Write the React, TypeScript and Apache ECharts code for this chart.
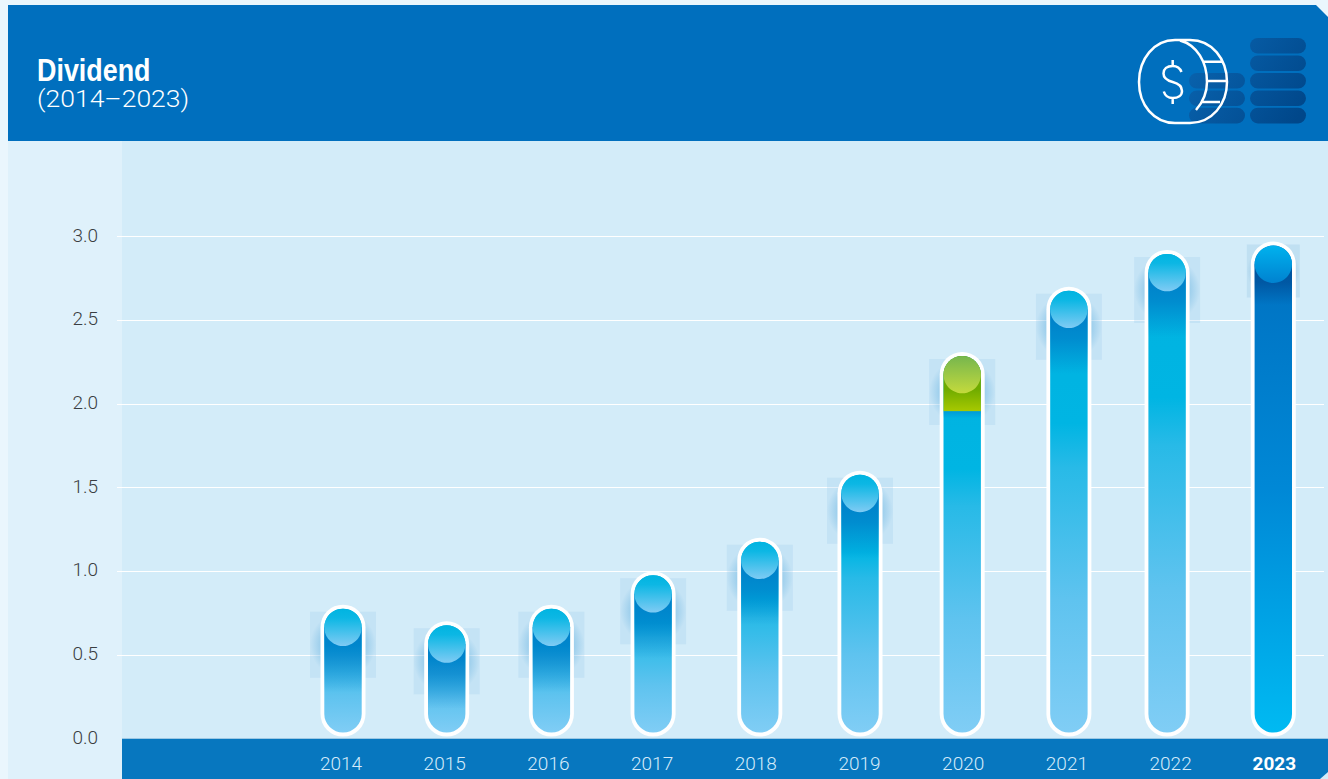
import React, { useEffect, useRef } from "react";
import * as echarts from "echarts";

// Dividend per year, 2014–2023
const years = ["2014", "2015", "2016", "2017", "2018", "2019", "2020", "2021", "2022", "2023"];
const dividends = [0.8, 0.7, 0.8, 1.0, 1.2, 1.6, 2.31, 2.7, 2.92, 2.97];
// Level where the green cap of a bar starts; null for plain bars
const capStart = [null, null, null, null, null, null, 1.955, null, null, null];
const yTicks = { min: 0, max: 3, interval: 0.5 };

const COIN =
  "M1175 40 C1154 40 1139 59 1139 82 C1139 105 1154 123 1175 123 L1190 123 C1212 123 1227 104 1227 82 C1227 59 1212 40 1190 40 Z " +
  "M1180 40.5 C1197 45 1207 62 1207 82 C1207 92 1203 102 1196 110 " +
  "M1203 61.7 L1222 61.7 M1207 81 L1227 81 M1201 102 L1220 102 " +
  "M1172.7 60 L1172.7 66 M1172.7 98 L1172.7 104 " +
  "M1181.5 72 C1180 68 1177 66 1172.7 66 C1167 66 1163.5 69 1163.5 73.5 C1163.5 78 1167 80.5 1172.7 82 C1178.5 83.5 1182 86.5 1182 91 C1182 95.5 1178 98 1172.7 98 C1168 98 1165 95.5 1163.8 91.5";
echarts.graphic.registerShape("coinIcon", echarts.graphic.extendPath(COIN, {}));

const vertical = (stops: [number, string][]) => ({
  type: "linear",
  x: 0,
  y: 0,
  x2: 0,
  y2: 1,
  colorStops: stops.map(([offset, color]) => ({ offset, color })),
});

// Small horizontal offsets of the bars relative to their axis labels
const barNudge = [2, 2, 3, 1, 4, 0.5, -1, 2, -3.5, -1];

function renderBar(params: any, api: any) {
  const i = params.dataIndex;
  const latest = i === years.length - 1;
  const [cx, top] = api.coord([api.value(0), api.value(1)]);
  const x = cx + barNudge[i];
  const base = 736.6;
  const outerW = 45;
  const innerW = 37.4;
  const r = innerW / 2;
  const innerTop = top + 4;
  const innerBottom = base - 4;
  const capY = capStart[i] != null ? api.coord([api.value(0), capStart[i]])[1] : null;

  const barFill = latest
    ? vertical([
        [0, "#0070c0"],
        [0.5, "#0088d6"],
        [1, "#00baf2"],
      ])
    : vertical([
        [0, "#00b2e0"],
        [0.3, "#00b5e3"],
        [0.4, "#28bae7"],
        [0.7, "#5fc3ef"],
        [1, "#80cdf5"],
      ]);
  const circleFill = latest
    ? vertical([
        [0, "#00b2ee"],
        [1, "#0082d0"],
      ])
    : capY != null
      ? vertical([
          [0, "#76b64e"],
          [1, "#c4da3c"],
        ])
      : vertical([
          [0, "#00b4e1"],
          [0.25, "#0cb7e4"],
          [1, "#7fcbf4"],
        ]);

  const glowSize = latest ? 53 : 66;
  const glowTop = latest ? top + 3 : top + 7;
  const glowRect = { x: x - glowSize / 2, y: glowTop, width: glowSize, height: glowSize };

  const children: any[] = [
    {
      type: "rect",
      shape: glowRect,
      style: { fill: latest ? "rgba(150,195,225,0.3)" : "rgba(150,200,235,0.25)" },
    },
    {
      type: "rect",
      shape: glowRect,
      style: {
        fill: {
          type: "radial",
          x: 0.5,
          y: 0.5,
          r: 0.5,
          colorStops: [
            { offset: 0, color: latest ? "rgba(40,90,140,0.4)" : "rgba(0,125,200,0.45)" },
            { offset: 0.65, color: latest ? "rgba(40,90,140,0.2)" : "rgba(0,125,200,0.22)" },
            { offset: 1, color: "rgba(0,125,200,0)" },
          ],
        },
      },
    },
    {
      type: "rect",
      shape: { x: x - outerW / 2, y: top, width: outerW, height: base - top, r: outerW / 2 },
      style: { fill: "#ffffff" },
    },
    {
      type: "rect",
      shape: { x: x - r, y: innerTop, width: innerW, height: innerBottom - innerTop, r },
      style: { fill: barFill },
    },
  ];

  if (capY != null) {
    children.push({
      type: "rect",
      shape: { x: x - r, y: innerTop, width: innerW, height: capY - innerTop, r: [r, r, 0, 0] },
      style: {
        fill: vertical([
          [0, "#6aa800"],
          [0.6, "#6fab00"],
          [1, "#a8c900"],
        ]),
      },
    });
    children.push({
      type: "rect",
      shape: { x: x - r, y: capY, width: innerW, height: 7 },
      style: {
        fill: vertical([
          [0, "rgba(0,140,210,0.6)"],
          [1, "rgba(0,140,210,0)"],
        ]),
      },
    });
  } else {
    // Shade cast below the round head
    const shadeDepth = latest ? 22 : 46;
    const shade = latest ? "0,50,120" : "0,115,195";
    children.push({
      type: "rect",
      shape: { x: x - r, y: innerTop + r, width: innerW, height: r + shadeDepth },
      style: {
        fill: vertical([
          [0, `rgba(${shade},${latest ? 0.5 : 0.85})`],
          [0.45, `rgba(${shade},${latest ? 0.42 : 0.6})`],
          [1, `rgba(${shade},0)`],
        ]),
      },
    });
  }

  children.push({
    type: "circle",
    shape: { cx: x, cy: innerTop + r, r },
    style: { fill: circleFill },
  });

  return { type: "group", children };
}

function stackRow(x: number, y: number) {
  return {
    type: "rect",
    z: -1,
    shape: { x, y, width: 56, height: 15.6, r: 7.8 },
    style: {
      fill: {
        type: "linear",
        global: true,
        x: 1190,
        y: 38,
        x2: 1300,
        y2: 115,
        colorStops: [
          { offset: 0, color: "#0a66b2" },
          { offset: 1, color: "#00478a" },
        ],
      },
    },
  };
}

const panel = (points: number[][], fill: string) => ({
  type: "polygon",
  z: -2,
  silent: true,
  shape: { points },
  style: { fill },
});

export default function App() {
  const ref = useRef<HTMLDivElement>(null);

  useEffect(() => {
    document.body.style.margin = "0";
    document.body.style.overflow = "hidden";
    const chart = echarts.init(ref.current!, undefined, { renderer: "svg" });
    chart.setOption({
      animation: false,
      backgroundColor: "#eaf6fd",
      graphic: {
        elements: [
          panel([[8, 141], [122, 141], [122, 779], [8, 779]], "#dff1fb"),
          panel([[122, 141], [1328, 141], [1328, 779], [122, 779]], "#d3ecf9"),
          panel([[8, 5], [1316, 5], [1328, 17], [1328, 141], [8, 141]], "#006fbe"),
          panel([[122, 738], [1328, 738], [1328, 739], [122, 739]], "#9cc8e4"),
          panel([[122, 739], [1328, 739], [1328, 772], [1320, 779], [122, 779]], "#0777bf"),
          {
            type: "text",
            z: 5,
            x: 37,
            y: 54,
            scaleX: 0.84,
            silent: true,
            style: {
              text: "Dividend",
              fill: "#ffffff",
              fontFamily: "'Liberation Sans', sans-serif",
              fontWeight: "bold",
              fontSize: 32,
              verticalAlign: "top",
            },
          },
          {
            type: "text",
            z: 5,
            x: 37,
            y: 87.5,
            scaleX: 1.13,
            silent: true,
            style: {
              text: "(2014–2023)",
              fill: "#ffffff",
              fontFamily: "Roboto, sans-serif",
              fontWeight: 300,
              fontSize: 23.5,
              verticalAlign: "top",
            },
          },
          stackRow(1250, 38),
          stackRow(1250, 55.5),
          stackRow(1250, 73),
          stackRow(1250, 90.4),
          stackRow(1250, 107.8),
          stackRow(1189, 73),
          stackRow(1189, 90.4),
          stackRow(1189, 107.8),
          {
            type: "coinIcon",
            z: 5,
            x: 0,
            y: 0,
            silent: true,
            style: { fill: "none", stroke: "#ffffff", lineWidth: 2.5 },
          },
        ],
      },
      grid: [
        { left: 117, right: 4, top: 236.5, height: 502 },
        { left: 289.15, width: 1037, top: 236.5, height: 502 },
      ],
      xAxis: [
        { type: "category", gridIndex: 0, show: false, data: years },
        {
          type: "category",
          gridIndex: 1,
          data: years,
          axisLine: { show: false },
          axisTick: { show: false },
          axisLabel: {
            margin: 15,
            formatter: (v: string) => (v === years[years.length - 1] ? `{strong|${v}}` : `{plain|${v}}`),
            rich: {
              plain: { color: "#d5ebfa", fontFamily: "Roboto, sans-serif", fontWeight: 300, fontSize: 19 },
              strong: { color: "#ffffff", fontFamily: "Roboto, sans-serif", fontWeight: "bold", fontSize: 19 },
            },
          },
        },
      ],
      yAxis: [
        {
          type: "value",
          gridIndex: 0,
          ...yTicks,
          axisLine: { show: false },
          axisTick: { show: false },
          axisLabel: {
            margin: 19,
            // A short line box sits the digits just above their grid line
            lineHeight: 3,
            height: 3,
            align: "right",
            verticalAlign: "bottom",
            color: "#3a3e42",
            fontFamily: "Roboto, sans-serif",
            fontWeight: 300,
            fontSize: 19,
            formatter: (v: number) => v.toFixed(1),
          },
          splitLine: { show: true, showMinLine: false, lineStyle: { color: "#ffffff", width: 1 } },
        },
        {
          type: "value",
          gridIndex: 1,
          ...yTicks,
          show: false,
          splitLine: { show: false },
        },
      ],
      series: [
        {
          type: "custom",
          name: "Dividend",
          xAxisIndex: 1,
          yAxisIndex: 1,
          silent: true,
          clip: false,
          renderItem: renderBar,
          encode: { x: 0, y: 1 },
          data: dividends.map((v, i) => [i, v]),
        },
      ],
    });
    return () => chart.dispose();
  }, []);

  return <div ref={ref} style={{ width: 1328, height: 779 }} />;
}
